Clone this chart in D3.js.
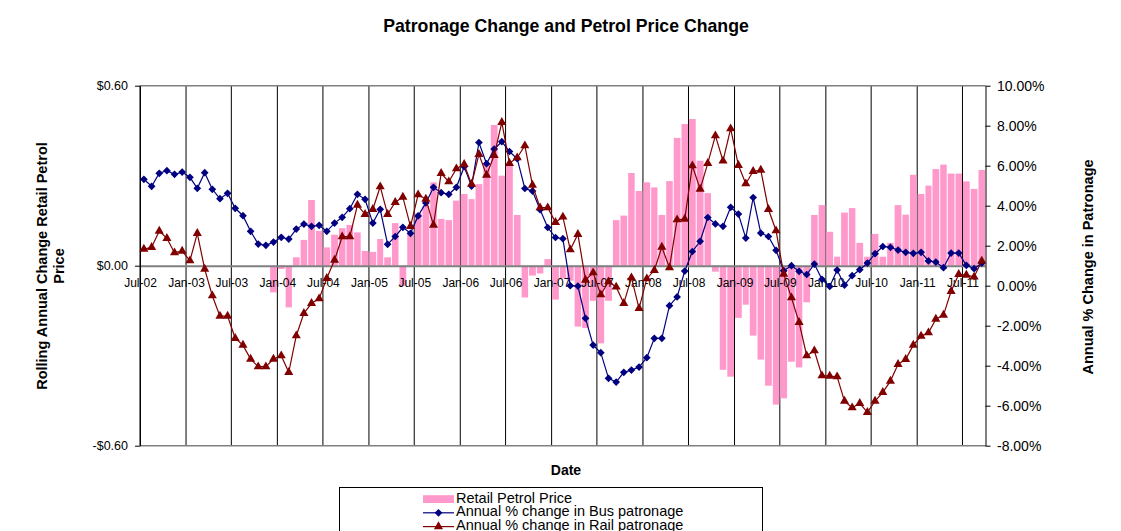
<!DOCTYPE html>
<html>
<head>
<meta charset="utf-8">
<script src="https://cdn.jsdelivr.net/npm/d3@7"></script>
<style>
  body { margin: 0; background: #fff; }
  svg { display: block; font-family: "Liberation Sans", Arial, sans-serif; }
</style>
</head>
<body>
<svg id="chart" width="1121" height="531"></svg>
<script>
// monthly data, Jul-02 .. Sep-11 (one row = Jul..Jun)
var START = new Date(2002, 6, 1);
var END = new Date(2011, 9, 1);
var months = d3.timeMonth.range(START, END);

var petrolPrice = [
  null, null, null, null, null, null, null, null, null, null, null, null,
  null, null, null, null, null, -0.089, -0.011, -0.139, 0.028, 0.086, 0.219, 0.116,
  0.061, 0.103, 0.125, 0.136, 0.111, 0.049, 0.046, 0.089, 0.028, 0.142, -0.067, 0.106,
  0.175, 0.2, 0.278, 0.156, 0.152, 0.217, 0.239, 0.222, 0.272, 0.339, 0.469, 0.3,
  0.336, 0.169, -0.106, -0.033, -0.026, 0.022, -0.113, -0.042, -0.05, -0.203, -0.208, -0.117,
  -0.259, -0.117, 0.152, 0.167, 0.309, 0.249, 0.278, 0.261, 0.169, 0.282, 0.426, 0.472,
  0.489, 0.35, 0.242, -0.02, -0.347, -0.37, -0.174, -0.13, -0.233, -0.313, -0.4, -0.463,
  -0.442, -0.32, -0.339, -0.122, 0.169, 0.202, 0.113, 0.03, 0.177, 0.192, 0.076, 0.03,
  0.106, 0.03, 0.076, 0.202, 0.17, 0.303, 0.239, 0.267, 0.322, 0.337, 0.307, 0.307,
  0.281, 0.256, 0.319
];

var busChange = [
  5.32, 4.97, 5.62, 5.75, 5.57, 5.68, 5.42, 4.87, 5.65, 4.82, 4.35, 4.62,
  3.87, 3.50, 2.72, 2.08, 2.02, 2.18, 2.42, 2.33, 2.83, 3.08, 2.97, 3.02,
  2.72, 3.13, 3.42, 3.85, 4.57, 4.32, 3.13, 3.82, 2.07, 2.46, 2.92, 2.62,
  3.49, 4.14, 4.92, 4.65, 4.57, 4.92, 5.95, 4.98, 7.16, 6.1, 6.83, 7.2,
  6.71, 6.35, 4.86, 4.73, 3.8, 2.91, 2.41, 2.35, 0.0, -0.02, -1.63, -2.97,
  -3.35, -4.63, -4.82, -4.33, -4.22, -4.07, -3.6, -2.63, -2.63, -1.0, -0.56, 0.73,
  1.71, 2.22, 3.41, 3.09, 2.97, 3.92, 3.58, 2.38, 4.41, 2.63, 2.46, 1.77,
  0.75, 1.0, 0.72, 0.56, 1.08, 0.32, -0.04, 0.78, 0.03, 0.5, 0.8, 1.13,
  1.6, 1.96, 1.92, 1.78, 1.67, 1.62, 1.67, 1.24, 1.18, 0.9, 1.63, 1.63,
  1.02, 0.85, 1.13
];

var railChange = [
  1.83, 1.92, 2.73, 2.37, 1.65, 1.73, 1.25, 2.62, 0.83, -0.5, -1.52, -1.52,
  -2.63, -2.97, -3.67, -4.05, -4.05, -3.67, -3.5, -4.33, -2.5, -1.38, -0.88, -0.65,
  0.37, 1.28, 2.45, 2.45, 4.03, 3.57, 3.82, 4.95, 3.57, 4.17, 4.43, 2.97,
  4.55, 4.33, 3.03, 5.62, 5.2, 5.85, 6.07, 5.08, 6.57, 5.53, 6.52, 8.17,
  6.12, 6.4, 7.0, 5.03, 3.9, 3.9, 3.17, 3.44, 1.8, 2.57, 0.28, 0.65,
  -0.45, 0.2, -0.06, -0.88, 0.4, -1.13, 0.35, 0.77, 1.93, 0.9, 3.3, 3.33,
  6.0, 4.83, 6.12, 7.5, 6.24, 7.85, 6.02, 5.1, 5.72, 5.78, 3.82, 2.75,
  0.58, -0.6, -1.83, -3.5, -3.25, -4.5, -4.52, -4.55, -5.77, -6.1, -5.88, -6.33,
  -5.77, -5.33, -4.77, -3.93, -3.68, -2.97, -2.52, -2.35, -1.67, -1.47, -0.28, 0.57,
  0.53, 0.44, 1.24
];

var priceTicks = [-0.6, 0, 0.6];
var pctTicks = [-8, -6, -4, -2, 0, 2, 4, 6, 8, 10];

var PINK = "#ff99cc", NAVY = "#000080", MAROON = "#800000";

var svg = d3.select("#chart");
var plot = { left: 140, right: 985.5, top: 85.7, bottom: 445.7 };

var x = d3.scaleTime().domain([START, END]).range([plot.left, plot.right]);
var yL = d3.scaleLinear().domain([-0.6, 0.6]).range([plot.bottom, plot.top]);
var yR = d3.scaleLinear().domain([-8, 10]).range([plot.bottom, plot.top]);

var mid = function (d) { return (x(d) + x(d3.timeMonth.offset(d, 1))) / 2; };
var step = function (d) { return x(d3.timeMonth.offset(d, 1)) - x(d); };

// vertical gridlines every 6 months
var gridMonths = d3.timeMonth.every(6).range(START, END);
svg.append("g").selectAll("line")
  .data(gridMonths)
  .enter().append("line")
  .attr("x1", function (d) { return x(d); })
  .attr("x2", function (d) { return x(d); })
  .attr("y1", plot.top)
  .attr("y2", plot.bottom)
  .attr("stroke", "#000")
  .attr("stroke-width", 1);

// petrol price bars (left axis)
var barData = months.map(function (d, i) { return { date: d, v: petrolPrice[i] }; })
  .filter(function (d) { return d.v !== null; });

svg.append("g").selectAll("rect")
  .data(barData)
  .enter().append("rect")
  .attr("x", function (d) { return mid(d.date) - (step(d.date) - 1) / 2; })
  .attr("width", function (d) { return step(d.date) - 1; })
  .attr("y", function (d) { return Math.min(yL(d.v), yL(0)); })
  .attr("height", function (d) { return Math.abs(yL(d.v) - yL(0)); })
  .attr("fill", PINK);

// plot frame top/bottom and zero line
svg.append("line").attr("x1", plot.left).attr("x2", plot.right)
  .attr("y1", plot.top).attr("y2", plot.top).attr("stroke", "#808080").attr("stroke-width", 1.5);
svg.append("line").attr("x1", plot.left).attr("x2", plot.right)
  .attr("y1", plot.bottom).attr("y2", plot.bottom).attr("stroke", "#808080").attr("stroke-width", 1.5);
svg.append("line").attr("x1", plot.left).attr("x2", plot.right)
  .attr("y1", yL(0) + 0.5).attr("y2", yL(0) + 0.5).attr("stroke", "#808080").attr("stroke-width", 2);

// axes
var fmtPrice = function (d) { return (d < 0 ? "-$" : "$") + Math.abs(d).toFixed(2); };

var leftAxis = svg.append("g")
  .attr("transform", "translate(" + plot.left + ",0)")
  .call(d3.axisLeft(yL).tickValues(priceTicks).tickFormat(fmtPrice).tickSizeInner(5).tickSizeOuter(0).tickPadding(7));

var rightAxis = svg.append("g")
  .attr("transform", "translate(" + plot.right + ",0)")
  .call(d3.axisRight(yR).tickValues(pctTicks).tickFormat(function (d) { return d.toFixed(2) + "%"; })
    .tickSizeInner(5).tickSizeOuter(0).tickPadding(6.5));

var xAxis = svg.append("g")
  .attr("transform", "translate(0," + yL(0) + ")")
  .call(d3.axisBottom(x).tickValues(gridMonths).tickFormat(d3.timeFormat("%b-%y")).tickSize(0).tickPadding(13));
xAxis.select(".domain").remove();

[leftAxis, rightAxis].forEach(function (a) {
  a.selectAll("text").attr("fill", "#000").attr("font-family", null);
  a.selectAll("line").attr("stroke", "#000");
  a.select(".domain").attr("stroke", "#000");
});
leftAxis.selectAll("text").attr("font-size", "12.5px");
rightAxis.selectAll("text").attr("font-size", "14px");
xAxis.selectAll("text").attr("font-size", "12px").attr("fill", "#000").attr("font-family", null);

// patronage lines (right axis)
var series = [
  { values: busChange, color: NAVY, shape: "diamond" },
  { values: railChange, color: MAROON, shape: "triangle" }
];

var line = d3.line()
  .x(function (d) { return mid(d.date); })
  .y(function (d) { return yR(d.v); });

var diamond = d3.symbol().type(d3.symbolSquare).size(30);
var triangle = d3.symbol().type(d3.symbolTriangle).size(36);

series.forEach(function (s) {
  var pts = months.map(function (d, i) { return { date: d, v: s.values[i] }; });
  var g = svg.append("g");
  g.append("path")
    .datum(pts)
    .attr("d", line)
    .attr("fill", "none")
    .attr("stroke", s.color)
    .attr("stroke-width", 1.2);
  g.selectAll("path.mark")
    .data(pts)
    .enter().append("path")
    .attr("class", "mark")
    .attr("d", s.shape === "diamond" ? diamond : triangle)
    .attr("transform", function (d) {
      return "translate(" + mid(d.date) + "," + yR(d.v) + ")" + (s.shape === "diamond" ? " rotate(45)" : "");
    })
    .attr("fill", s.color);
});

// titles
svg.append("text")
  .attr("x", 566).attr("y", 32)
  .attr("text-anchor", "middle")
  .attr("font-size", "17.7px").attr("font-weight", "bold")
  .text("Patronage Change and Petrol Price Change");

svg.append("text")
  .attr("x", 566).attr("y", 475)
  .attr("text-anchor", "middle")
  .attr("font-size", "14px").attr("font-weight", "bold")
  .text("Date");

var leftTitle = svg.append("text")
  .attr("transform", "translate(47,266) rotate(-90)")
  .attr("text-anchor", "middle")
  .attr("font-size", "14.5px").attr("font-weight", "bold");
leftTitle.append("tspan").attr("x", 0).attr("y", 0).text("Rolling Annual Change Retail Petrol");
leftTitle.append("tspan").attr("x", 0).attr("y", 16.5).text("Price");

svg.append("text")
  .attr("transform", "translate(1093,267) rotate(-90)")
  .attr("text-anchor", "middle")
  .attr("font-size", "14.5px").attr("font-weight", "bold")
  .text("Annual % Change in Patronage");

// legend
var legend = svg.append("g");
legend.append("rect")
  .attr("x", 339.5).attr("y", 487.5).attr("width", 423).attr("height", 60)
  .attr("fill", "#fff").attr("stroke", "#000");

var legendItems = [
  { label: "Retail Petrol Price", type: "bar", color: PINK },
  { label: "Annual % change in Bus patronage", type: "diamond", color: NAVY },
  { label: "Annual % change in Rail patronage", type: "triangle", color: MAROON }
];

var item = legend.selectAll("g.item")
  .data(legendItems)
  .enter().append("g")
  .attr("class", "item")
  .attr("transform", function (d, i) { return "translate(423," + (499 + i * 13.8) + ")"; });

item.each(function (d) {
  var g = d3.select(this);
  if (d.type === "bar") {
    g.append("rect").attr("x", 0).attr("y", -3.8).attr("width", 31).attr("height", 7.8).attr("fill", d.color);
  } else {
    g.append("line").attr("x1", 0).attr("x2", 31).attr("y1", 0).attr("y2", 0)
      .attr("stroke", d.color).attr("stroke-width", 1.2);
    g.append("path")
      .attr("d", d.type === "diamond" ? diamond : triangle)
      .attr("transform", "translate(15.5,0)" + (d.type === "diamond" ? " rotate(45)" : ""))
      .attr("fill", d.color);
  }
  g.append("text")
    .attr("x", 33).attr("y", 3.5)
    .attr("font-size", "14.5px")
    .text(d.label);
});
</script>
</body>
</html>
